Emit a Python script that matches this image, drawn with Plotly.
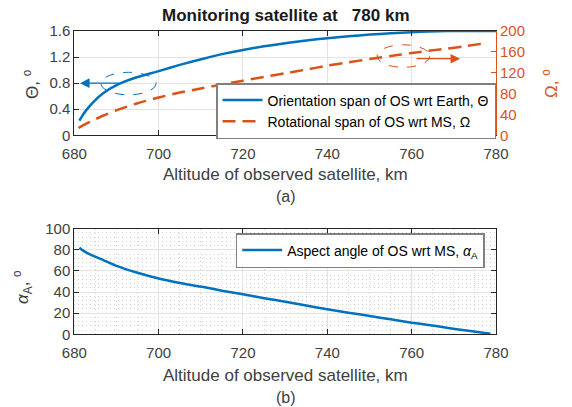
import plotly.graph_objects as go

# ---- data ----
theta_alt = [681.2, 682.0, 682.9, 684.5, 686.9, 690.0, 694.8, 700.0, 705.0, 710.6, 715.0, 720.0,
             725.0, 730.4, 735.0, 740.0, 745.0, 750.1, 755.0, 760.0, 764.0, 768.3, 772.0, 776.0, 780.0]
theta_val = [0.224, 0.31, 0.39, 0.51, 0.648, 0.77, 0.89, 0.985, 1.08, 1.175, 1.245, 1.31,
             1.365, 1.415, 1.455, 1.49, 1.52, 1.545, 1.565, 1.58, 1.593, 1.6, 1.6, 1.6, 1.6]

omega_alt = [681.0, 682.5, 684.5, 686.9, 690.0, 694.8, 700.0, 705.0, 710.6, 715.0, 720.0, 725.0,
             730.4, 735.0, 740.0, 745.0, 750.1, 755.0, 760.0, 764.0, 768.3, 772.0, 777.8]
omega_val = [14, 21, 29, 38, 48, 61, 72.5, 82, 90.7, 97.5, 104.7, 112,
             119.5, 126, 133.5, 140, 146.3, 152, 157.8, 162, 166, 170, 177]

alpha_alt = [681.2, 682.0, 683.0, 684.5, 686.9, 690.0, 694.8, 700.0, 705.0, 710.6, 715.0, 720.0,
             725.0, 730.4, 735.0, 740.0, 745.0, 750.1, 755.0, 760.0, 764.0, 768.3, 773.0, 778.7]
alpha_val = [82, 79.5, 77.2, 74.3, 70.3, 64.8, 58.5, 52.8, 48.6, 44.8, 41.3, 37.9,
             34.2, 30.6, 27.2, 23.7, 20.5, 17.3, 14.2, 11, 8.8, 6.3, 3.5, 0.6]

x_ticks = [680, 700, 720, 740, 760, 780]
theta_ticks = [0, 0.4, 0.8, 1.2, 1.6]
theta_ticktext = ["0", "0.4", "0.8", "1.2", "1.6"]
omega_ticks = [0, 40, 80, 120, 160, 200]
alpha_ticks = [0, 20, 40, 60, 80, 100]

# ---- styles ----
BLUE = "#0072BD"
RED = "#D95319"
TXT = "#404040"
AX = "#262626"
GRID = "#e3e3e3"
MINOR = "#d2d2d2"
FONT = "Liberation Sans, Arial, sans-serif"
W, H = 572, 407

def px_x(p):
    return p / W

def px_y(p):
    return 1 - p / H

xdom = [px_x(74.3), px_x(496.0)]

fig = go.Figure()

fig.add_trace(go.Scatter(x=theta_alt, y=theta_val, mode="lines",
                         line=dict(color=BLUE, width=2.5, shape="spline", smoothing=0.6),
                         name="Orientation span of OS wrt Earth, Θ",
                         xaxis="x", yaxis="y", legend="legend"))
fig.add_trace(go.Scatter(x=omega_alt, y=omega_val, mode="lines",
                         line=dict(color=RED, width=2.5, dash="13px,7px", shape="spline", smoothing=0.6),
                         name="Rotational span of OS wrt MS, Ω",
                         xaxis="x", yaxis="y2", legend="legend"))
fig.add_trace(go.Scatter(x=alpha_alt, y=alpha_val, mode="lines",
                         line=dict(color=BLUE, width=2.5, shape="spline", smoothing=0.6),
                         name="Aspect angle of OS wrt MS, <i>α</i><sub>A</sub>",
                         xaxis="x2", yaxis="y3", legend="legend2"))

tickfont = dict(family=FONT, size=15, color=TXT)

common_x = dict(range=[680, 780], tickvals=x_ticks, ticks="inside", ticklen=5,
                tickcolor=AX, showline=True, linecolor=AX, linewidth=1,
                mirror="ticks", showgrid=True, gridcolor=GRID, zeroline=False,
                tickfont=tickfont, domain=xdom, automargin=False, ticklabelstandoff=5)

fig.update_layout(
    width=W, height=H,
    margin=dict(l=0, r=0, t=0, b=0, autoexpand=False),
    paper_bgcolor="white", plot_bgcolor="white",
    showlegend=True,
    xaxis=dict(anchor="y", **common_x),
    xaxis2=dict(anchor="y3",
                minor=dict(dtick=5, showgrid=True, griddash="1px,3px", gridcolor=MINOR, gridwidth=1),
                **common_x),
    yaxis=dict(domain=[px_y(135.3), px_y(31)], range=[0, 1.6], tickvals=theta_ticks,
               ticktext=theta_ticktext, ticks="inside", ticklen=5, tickcolor=AX,
               showline=True, linecolor=AX, linewidth=1, mirror=False, automargin=False,
               showgrid=True, gridcolor=GRID, zeroline=False, tickfont=tickfont),
    yaxis2=dict(overlaying="y", side="right", anchor="x", range=[0, 200], tickvals=omega_ticks,
                ticks="inside", ticklen=5, tickcolor=RED, showline=True, linecolor=RED,
                linewidth=1, showgrid=False, zeroline=False, automargin=False,
                tickfont=dict(family=FONT, size=15, color=RED)),
    yaxis3=dict(domain=[px_y(334.3), px_y(228.7)], anchor="x2", range=[0, 100],
                tickvals=alpha_ticks, ticks="inside", ticklen=5, tickcolor=AX,
                showline=True, linecolor=AX, linewidth=1, mirror="ticks", automargin=False,
                showgrid=True, gridcolor=GRID, zeroline=False, tickfont=tickfont,
                minor=dict(dtick=4, showgrid=True, griddash="1px,3px", gridcolor=MINOR, gridwidth=1)),
    legend=dict(x=xdom[1], y=px_y(83), xanchor="right", yanchor="top",
                bgcolor="white", bordercolor="#808080", borderwidth=1.5,
                font=dict(family=FONT, size=14, color="#000000"),
                itemwidth=40, tracegroupgap=0),
    legend2=dict(x=px_x(235.7), y=px_y(233), xanchor="left", yanchor="top",
                 bgcolor="white", bordercolor="#808080", borderwidth=1.5,
                 font=dict(family=FONT, size=14, color="#000000"),
                 itemwidth=40),
)

# ellipses (dashed) marking which curve belongs to which axis
fig.add_shape(type="circle", xref="x", yref="y", x0=686.3, x1=699.4, y0=0.622, y1=0.966,
              line=dict(color=BLUE, width=1, dash="dash"))
fig.add_shape(type="circle", xref="x", yref="y2", x0=751.8, x1=764.3, y0=130.4, y1=173.5,
              line=dict(color=RED, width=1, dash="dash"))

# arrows
fig.add_annotation(x=681.35, y=0.8, ax=691.0, ay=0.8, xref="x", yref="y", axref="x", ayref="y",
                   text="", showarrow=True, arrowhead=2, arrowsize=1.6, arrowwidth=1.2,
                   arrowcolor=BLUE)
fig.add_annotation(x=771.5, y=146.9, ax=760.8, ay=146.9, xref="x", yref="y2", axref="x", ayref="y2",
                   text="", showarrow=True, arrowhead=2, arrowsize=1.6, arrowwidth=1.2,
                   arrowcolor=RED)

# texts
def label(text, x, y, size=17, color=TXT, angle=0, bold=False):
    if bold:
        text = "<b>" + text + "</b>"
    fig.add_annotation(x=px_x(x), y=px_y(y), xref="paper", yref="paper", text=text,
                       showarrow=False, xanchor="center", yanchor="middle", textangle=angle,
                       font=dict(family=FONT, size=size, color=color))

label("Monitoring satellite at\u00a0\u00a0\u00a0780 km", 285.5, 16, size=17, color="#1a1a1a", bold=True)
label("Altitude of observed satellite, km", 285.5, 175, size=17)
label("(a)", 286, 196, size=16)
label("Altitude of observed satellite, km", 285.5, 375, size=17)
label("(b)", 286, 397, size=16)
label("Θ, <sup>o</sup>", 31, 84, size=17, angle=-90)
label("Ω, <sup>o</sup>", 550, 84, size=17, color=RED, angle=-90)
label("<i>α</i><sub>A</sub>, <sup>o</sup>", 22, 287, size=17, angle=-90)

fig.write_html("out.html")
